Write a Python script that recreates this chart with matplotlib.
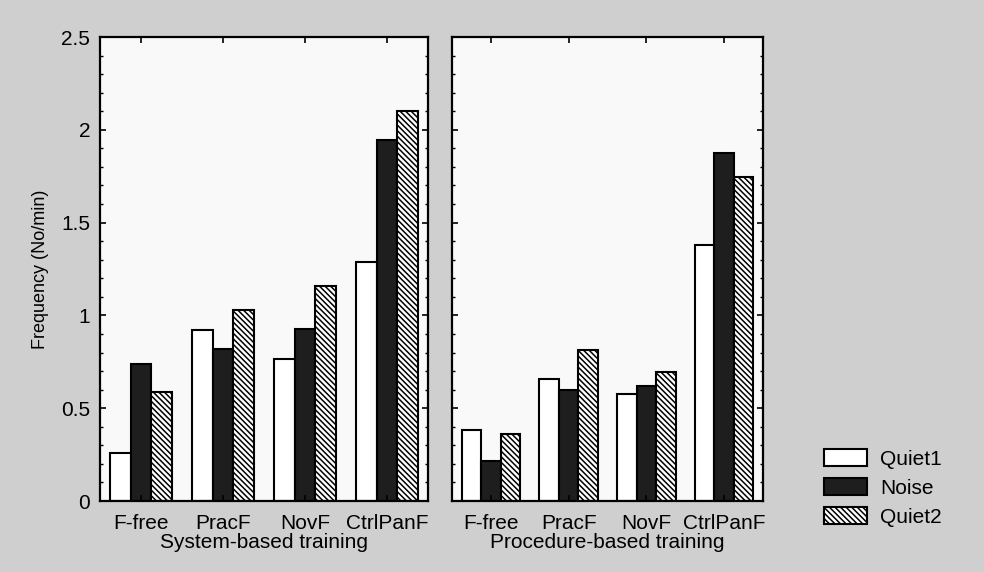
import numpy as np
import matplotlib
matplotlib.use("Agg")
import matplotlib.pyplot as plt
from matplotlib.patches import Patch
from matplotlib.ticker import MultipleLocator

plt.rcParams['font.family'] = ['Liberation Sans', 'DejaVu Sans']
plt.rcParams['hatch.linewidth'] = 1.1

# fault categories and session conditions
faults = ['F-free', 'PracF', 'NovF', 'CtrlPanF']
conditions = ['Quiet1', 'Noise', 'Quiet2']

# frequency (No/min), system-based training
system_quiet1 = [0.26, 0.92, 0.765, 1.29]
system_noise = [0.74, 0.82, 0.925, 1.945]
system_quiet2 = [0.59, 1.03, 1.16, 2.10]

# frequency (No/min), procedure-based training
proc_quiet1 = [0.38, 0.655, 0.575, 1.38]
proc_noise = [0.215, 0.60, 0.62, 1.875]
proc_quiet2 = [0.36, 0.815, 0.695, 1.745]

styles = [dict(facecolor='white', hatch=None),
          dict(facecolor='#1e1e1e', hatch=None),
          dict(facecolor='white', hatch='\\\\\\\\\\\\')]

bg = '#cfcfcf'
fig = plt.figure(figsize=(9.84, 5.72), dpi=100, facecolor=bg)
ax1 = fig.add_axes([0.1016, 0.1241, 0.3333, 0.8112])
ax2 = fig.add_axes([0.4593, 0.1241, 0.3161, 0.8112])

x = np.arange(1, len(faults) + 1)
w = 0.25

def draw_panel(ax, series, xlabel):
    for k, (vals, st) in enumerate(zip(series, styles)):
        ax.bar(x + (k - 1) * w, vals, width=w, facecolor=st['facecolor'],
               hatch=st['hatch'], edgecolor='black', linewidth=1.5)
    ax.set_facecolor('#f9f9f9')
    ax.set_xlim(0.5, 4.5)
    ax.set_ylim(0, 2.5)
    ax.set_xticks(x)
    ax.set_xticklabels(faults, fontsize=15)
    ax.set_xlabel(xlabel, fontsize=15, labelpad=0)
    ax.yaxis.set_major_locator(MultipleLocator(0.5))
    ax.yaxis.set_minor_locator(MultipleLocator(0.1))
    ax.tick_params(axis='x', pad=9)
    ax.tick_params(direction='in', top=True, right=True, length=4, width=1.2)
    ax.tick_params(axis='y', pad=7)
    ax.tick_params(which='minor', direction='in', right=True, length=2.5,
                   width=1.0)
    for s in ax.spines.values():
        s.set_linewidth(1.6)

draw_panel(ax1, [system_quiet1, system_noise, system_quiet2],
           'System-based training')
draw_panel(ax2, [proc_quiet1, proc_noise, proc_quiet2],
           'Procedure-based training')

ax1.set_yticks([0, 0.5, 1, 1.5, 2, 2.5])
ax1.set_yticklabels(['0', '0.5', '1', '1.5', '2', '2.5'], fontsize=15)
ax1.set_ylabel('Frequency (No/min)', fontsize=13, labelpad=9)
ax2.tick_params(labelleft=False)

handles = [Patch(facecolor=st['facecolor'], hatch=st['hatch'],
                 edgecolor='black', linewidth=1.5) for st in styles]
fig.legend(handles, conditions, loc='center left',
           bbox_to_anchor=(0.818, 0.147), frameon=False, fontsize=15,
           handlelength=2.1, handleheight=0.85, labelspacing=0.45,
           handletextpad=0.6)

fig.savefig('out.png', dpi=100, facecolor=bg)
